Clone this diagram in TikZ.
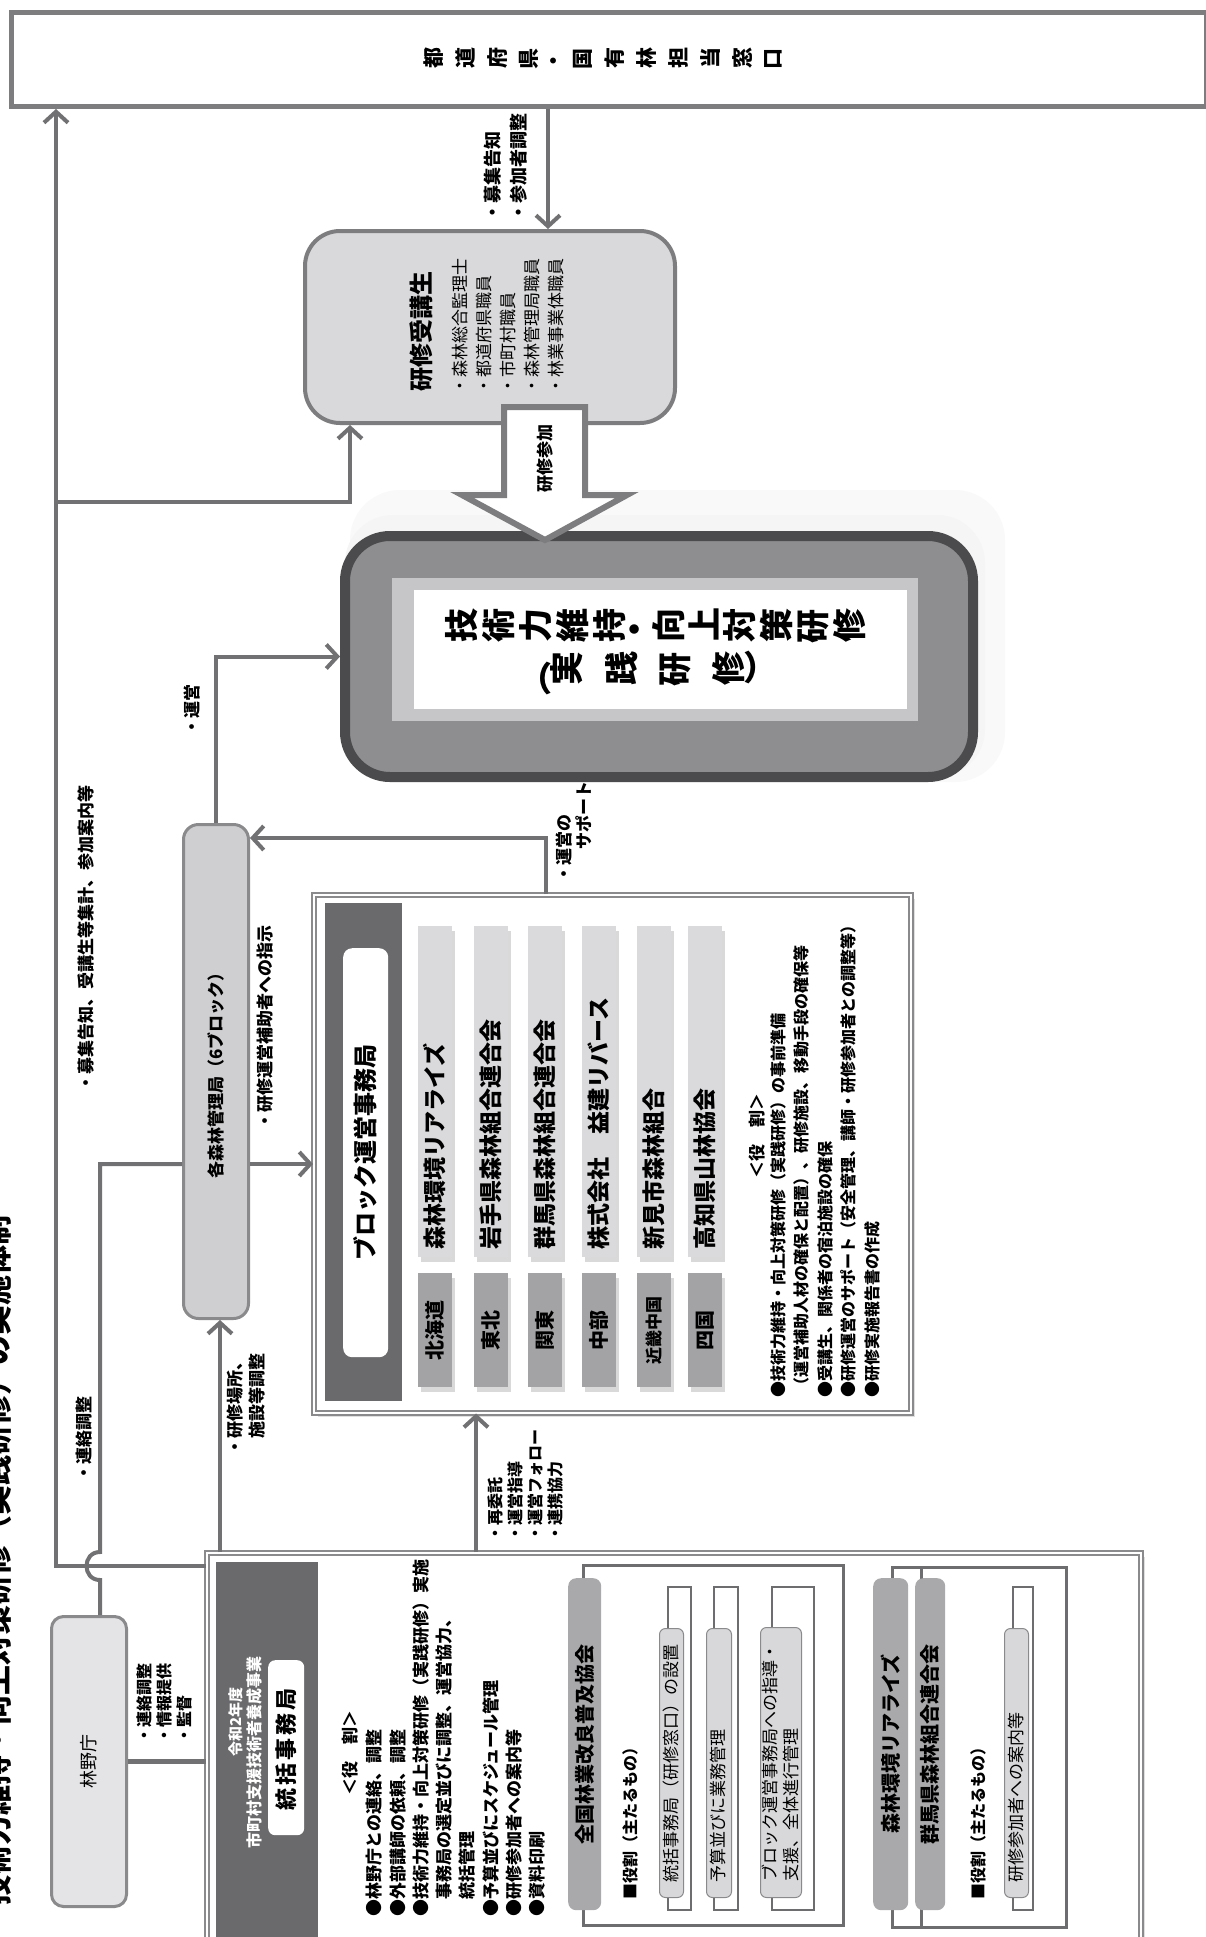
\documentclass[tikz,border=0pt]{standalone}
\usepackage{fontspec}
\setmainfont{Noto Sans CJK JP}
\usepackage{graphicx}
\usetikzlibrary{arrows.meta,shadows}
\definecolor{bx}{HTML}{7D7D7F}
\definecolor{lc}{HTML}{717173}
\definecolor{lg}{HTML}{D9D9DB}
\definecolor{dg}{HTML}{4B4B4D}
\definecolor{mg}{HTML}{8E8E90}
\definecolor{bev}{HTML}{C6C6C8}
\definecolor{kg}{HTML}{CFCFD1}
\definecolor{bb}{HTML}{8A8A8C}
\definecolor{dk}{HTML}{6A6A6C}
\definecolor{og}{HTML}{DADADC}
\definecolor{rgb2}{HTML}{A3A3A5}
\definecolor{hb}{HTML}{A9A9AB}
\definecolor{fr}{HTML}{6D6D6F}
\definecolor{ig}{HTML}{D8D8DA}
\definecolor{rgf}{HTML}{E4E4E6}
\makeatletter
\newcommand\vtext[2]{\@tfor\vt@c:=#2\do{\rotatebox[origin=c]{90}{\vt@c}\hspace{#1}}\hspace{-#1}}
\newcommand\spc[2]{\@tfor\sp@c:=#2\do{\sp@c\hspace{#1}}\hspace{-#1}}
\makeatother
\begin{document}
\begin{tikzpicture}[x=1pt,y=-1pt,
  line/.style={draw=lc, line width=4pt},
  arr/.style={line, -{Straight Barb[length=11pt,width=24pt]}},
  rt/.style={rotate=90, inner sep=0pt},
  bf17/.style={font=\fontsize{17}{21}\selectfont\bfseries},
  corner/.style={anchor=north west, inner sep=0pt},
  framebox/.style={draw=fr, line width=3pt},
  headbar/.style={fill=hb, rounded corners=8pt, corner},
  itemout/.style={draw=fr, line width=1.2pt},
  itemin/.style={draw=bb, line width=1pt, fill=ig, rounded corners=6pt, corner},
  dbl/.style={draw=bb, line width=1.5pt, double=white, double distance=2.5pt, fill=white, corner,
     drop shadow={opacity=0.25, shadow xshift=4pt, shadow yshift=-4pt}}
]
\useasboundingbox (0,0) rectangle (1206,1937);
\fill[white] (0,0) rectangle (1206,1937);

% title (cut off at left edge)
\node[rt, anchor=south east, font=\fontsize{30}{30}\selectfont\bfseries] (title) at (12,1215) {技術力維持・向上対策研修（実践研修）の実施体制};

% prefecture box
\node[draw=bx, line width=5pt, fill=white, corner, minimum width=1195pt, minimum height=94pt] (pref) at (9,10) {};
\node[font=\fontsize{21}{21}\selectfont\bfseries] (preft) at (pref.center) {\vtext{12pt}{都道府県・国有林担当窓口}};

% trainees
\node[draw=bx, line width=4pt, fill=lg, rounded corners=35pt, corner, minimum width=370pt, minimum height=192pt] (jukou) at (303,229) {};
\node[rt, anchor=west, font=\fontsize{24}{24}\selectfont\bfseries] (jt) at (421,392) {研修受講生};
\node[rt, anchor=north west, align=left, font=\fontsize{17}{24}\selectfont] (jl) at (452,395) {・森林総合監理士\\・都道府県職員\\・市町村職員\\・森林管理局職員\\・林業事業体職員};

\coordinate (xa) at (548,0);
\draw[arr] (pref.south -| xa) -- (jukou.north -| xa);
\node[rt, anchor=north west, align=left, font=\fontsize{18}{26}\selectfont\bfseries] (la) at (484,222) {・募集告知\\・参加者調整};

% main training box
\fill[gray!5, rounded corners=50pt] (350,490) rectangle (1005,782);
\fill[gray!8, rounded corners=48pt] (345,515) rectangle (985,777);
\node[draw=dg, line width=10pt, fill=mg, rounded corners=45pt, corner, minimum width=628pt, minimum height=241pt] (gijutsu) at (340,531) {};
\fill[bev] (392,578) rectangle (918,721);
\fill[white] (414,590) rectangle (907,709);
\node[font=\fontsize{34}{34}\selectfont\bfseries] (g1) at (658,627) {\vtext{4.5pt}{技術力維持・向上対策研修}};
\node[font=\fontsize{34}{34}\selectfont\bfseries] (g2) at (657,673) {\rotatebox[origin=c]{90}{︵}\vtext{22pt}{実践研修}\rotatebox[origin=c]{90}{︶}};

% block arrow 研修参加
\draw[draw=bx, line width=6pt, fill=white, line join=miter] (504,407) -- (585,407) -- (585,495) -- (627,495) -- (545,540) -- (462,495) -- (504,495) -- cycle;
\node[rt, font=\fontsize{17}{17}\selectfont\bfseries] (sanka) at (545,458) {研修参加};

% regional forest offices
\node[draw=bb, line width=3pt, fill=kg, rounded corners=15pt, corner, minimum width=65pt, minimum height=494pt] (kanri) at (182,823) {};
\node[rt, bf17] (kanrit) at (kanri.center) {各森林管理局（6ブロック）};

\draw[arr] (kanri.north) |- (gijutsu.west);
\node[rt, bf17] (lun) at (192,710) {・運営};

% block secretariat
\node[dbl, minimum width=597pt, minimum height=518pt] (block) at (313,894) {};
\fill[dk] (325,903) rectangle (402,1401);
\node[fill=white, rounded corners=9pt, corner, minimum width=45pt, minimum height=409pt] (bh) at (343,948) {};
\node[rt, font=\fontsize{24}{24}\selectfont\bfseries] (bht) at (bh.center) {ブロック運営事務局};
\foreach \x/\r/\o/\s in {435/北海道/森林環境リアライズ/20, 491/東北/岩手県森林組合連合会/20, 545/関東/群馬県森林組合連合会/20, 599/中部/株式会社　益建リバース/20, 654/近畿中国/新見市森林組合/17, 705/四国/高知県山林協会/20}{
  \fill[black, opacity=0.15] (\x-14,931) rectangle (\x+20,1262);
  \fill[black, opacity=0.15] (\x-14,1278) rectangle (\x+20,1392);
  \node[fill=og, corner, minimum width=34pt, minimum height=331pt] (o\x) at (\x-17,926) {};
  \node[fill=rgb2, corner, minimum width=34pt, minimum height=114pt] (r\x) at (\x-17,1273) {};
  \node[rt, anchor=west, font=\fontsize{23}{23}\selectfont\bfseries] at (\x,1250) {\o};
  \node[rt, font=\fontsize{\s}{\s}\selectfont\bfseries] at (r\x.center) {\r};
}
\node[rt, bf17] (yk1) at (757,1136) {＜役　割＞};
\node[rt, anchor=north west, align=left, font=\fontsize{16}{23.5}\selectfont\bfseries] (bl1) at (770,1398) {●技術力維持・向上対策研修（実践研修）の事前準備\\\hspace{0.3em}（運営補助人材の確保と配置）、研修施設、移動手段の確保等\\●受講生、関係者の宿泊施設の確保\\●研修運営のサポート（安全管理、講師・研修参加者との調整等）\\●研修実施報告書の作成};

% connectors around
\coordinate (xl) at (56,0);
\coordinate (yl) at (0,1566);
\coordinate (yb) at (0,502);
\coordinate (xb) at (350,0);
\coordinate (xr) at (100,0);
\coordinate (yk) at (0,1164);
\coordinate (xk) at (220,0);
\coordinate (xt) at (476,0);
\coordinate (xs) at (546,0);
\coordinate (ys) at (0,838);

% general secretariat
\node[dbl, minimum width=934pt, minimum height=420pt] (touk) at (206,1552) {};
\fill[dk] (216,1562) rectangle (318,1950);
\node[rt, text=white, font=\fontsize{15}{15}\selectfont\bfseries] (rw) at (236,1722) {令和2年度};
\node[rt, text=white, font=\fontsize{16}{16}\selectfont\bfseries] (sj) at (254,1752) {市町村支援技術者養成事業};
\node[fill=white, rounded corners=7pt, corner, minimum width=36pt, minimum height=175pt] (th) at (268,1660) {};
\node[rt, font=\fontsize{22}{22}\selectfont\bfseries] (tht) at (th.center) {\spc{3pt}{統括事務局}};
\node[rt, bf17] (yk2) at (350,1753) {＜役　割＞};
\node[rt, anchor=north west, align=left, font=\fontsize{17}{23.3}\selectfont\bfseries] (bl2) at (366,1917) {●林野庁との連絡、調整\\●外部講師の依頼、調整\\●技術力維持・向上対策研修（実践研修）実施\\\hspace{1em}事務局の選定並びに調整、運営協力、\\\hspace{1em}統括管理\\●予算並びにスケジュール管理\\●研修参加者への案内等\\●資料印刷};

% 全国林業改良普及協会
\draw[framebox] (583,1565) rectangle (843,1925);
\node[headbar, minimum width=33pt, minimum height=332pt] (zh) at (568,1578) {};
\node[rt, font=\fontsize{20}{20}\selectfont\bfseries] (zht) at (zh.center) {全国林業改良普及協会};
\node[rt, anchor=west, font=\fontsize{16}{16}\selectfont\bfseries] (zy) at (630,1900) {■役割（主たるもの）};
\draw[itemout] (668,1587) rectangle (691,1910);
\node[itemin, minimum width=24pt, minimum height=269pt] (zi1) at (659,1628) {};
\node[rt, anchor=west, font=\fontsize{17}{17}\selectfont] (zi1t) at (671,1883) {統括事務局（研修窓口）の設置};
\draw[itemout] (714,1587) rectangle (738,1910);
\node[itemin, minimum width=25pt, minimum height=269pt] (zi2) at (706,1628) {};
\node[rt, anchor=west, font=\fontsize{17}{17}\selectfont] (zi2t) at (718,1883) {予算並びに業務管理};
\draw[itemout] (772,1587) rectangle (814,1910);
\node[itemin, minimum width=41pt, minimum height=270pt] (zi3) at (760,1627) {};
\node[rt, anchor=north west, align=left, font=\fontsize{17}{21}\selectfont] (zi3t) at (762,1882) {ブロック運営事務局への指導・\\支援、全体進行管理};

% 森林環境リアライズ / 群馬県森林組合連合会
\draw[framebox] (892,1567) rectangle (1066,1927);
\draw[framebox] (921,1567) -- (921,1927);
\node[headbar, minimum width=35pt, minimum height=332pt] (sh1) at (873,1578) {};
\node[rt, font=\fontsize{20}{20}\selectfont\bfseries] (sh1t) at (sh1.center) {森林環境リアライズ};
\node[headbar, minimum width=30pt, minimum height=332pt] (sh2) at (915,1578) {};
\node[rt, font=\fontsize{20}{20}\selectfont\bfseries] (sh2t) at (sh2.center) {群馬県森林組合連合会};
\node[rt, anchor=west, font=\fontsize{16}{16}\selectfont\bfseries] (sy) at (978,1900) {■役割（主たるもの）};
\draw[itemout] (1013,1587) rectangle (1033,1910);
\node[itemin, minimum width=24pt, minimum height=269pt] (si1) at (1004,1628) {};
\node[rt, anchor=west, font=\fontsize{17}{17}\selectfont] (si1t) at (1016,1883) {研修参加者への案内等};

% Forestry Agency
\node[draw=bb, line width=3pt, fill=rgf, rounded corners=12pt, corner, minimum width=75pt, minimum height=290pt] (rinya) at (50,1615) {};
\node[rt, font=\fontsize{18}{18}\selectfont] (rinyat) at (rinya.center) {林野庁};
\draw[line, line width=5pt] (rinya.east) -- (touk.west |- rinya.east);
\node[rt, anchor=north west, align=left, font=\fontsize{16}{20}\selectfont\bfseries] (lr) at (137,1744) {・連絡調整\\・情報提供\\・監督};

% connectors
\draw[arr] (touk.west |- yl) -- (xl |- yl) -- (xl |- pref.south);
\draw[arr] (xl |- yb) -- (xb |- yb) -- (jukou.south -| xb);
\node[rt, anchor=west, bf17] (lbo) at (86,1092) {・募集告知、受講生等集計、参加案内等};

\draw[line] (rinya.north -| xr) -- ++(0,-35) .. controls +(-18,0) and +(-18,0) .. ++(0,-28) -- (xr |- yk) -- (kanri.west |- yk);
\node[rt, anchor=west, bf17] (lrc) at (84,1482) {・連絡調整};
\draw[arr] (kanri.east |- yk) -- (block.west |- yk);
\node[rt, anchor=west, bf17] (lsj) at (265,1130) {・研修運営補助者への指示};

\draw[arr] (touk.north -| xk) -- (kanri.south -| xk);
\node[rt, anchor=north east, align=right, font=\fontsize{17}{22}\selectfont\bfseries] (lbs) at (227,1353) {・研修場所、\\施設等調整};

\draw[arr] (touk.north -| xt) -- (block.south -| xt);
\node[rt, anchor=north west, align=left, font=\fontsize{16}{20}\selectfont\bfseries] (lit) at (488,1542) {・再委託\\・運営指導\\・運営フォロー\\・連携協力};

\draw[arr] (block.north -| xs) -- (xs |- ys) -- (kanri.east |- ys);
\node[rt, anchor=north west, align=left, font=\fontsize{17}{20}\selectfont\bfseries] (lsp) at (556,883) {・運営の\\\hspace{33pt}サポート};
\end{tikzpicture}
\end{document}
